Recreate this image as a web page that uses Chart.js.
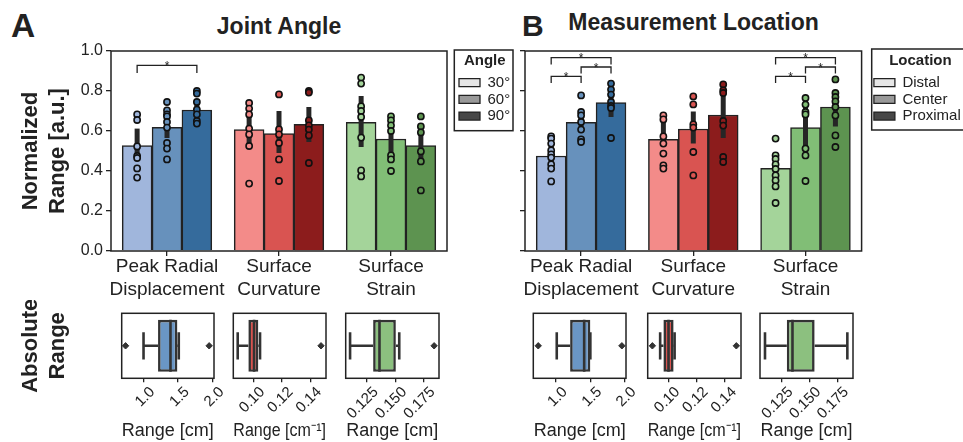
<!DOCTYPE html>
<html><head><meta charset="utf-8">
<script src="https://cdn.jsdelivr.net/npm/chart.js@4.4.1/dist/chart.umd.min.js"></script>
<style>
html,body{margin:0;padding:0;background:#fff;width:963px;height:442px;overflow:hidden;position:relative;font-family:"Liberation Sans",Arial,sans-serif;color:#222}
canvas{position:absolute}
.t{position:absolute;font-weight:bold;white-space:nowrap;line-height:1}
</style></head><body>
<div class="t" style="left:11px;top:9px;font-size:33.5px">A</div>
<div class="t" style="left:111px;width:336px;text-align:center;top:14.5px;font-size:23px">Joint Angle</div>
<div class="t" style="left:522px;top:11px;font-size:30px">B</div>
<div class="t" style="left:525px;width:337px;text-align:center;top:11px;font-size:23px">Measurement Location</div>

<canvas id="barA" width="522" height="300" style="left:0;top:0"></canvas>
<canvas id="barB" width="498" height="300" style="left:480px;top:0"></canvas>
<canvas id="boxA1" width="244" height="142" style="left:0;top:300px"></canvas>
<canvas id="boxA2" width="153" height="142" style="left:203px;top:300px"></canvas>
<canvas id="boxA3" width="153" height="142" style="left:316px;top:300px"></canvas>
<canvas id="boxB1" width="153" height="142" style="left:503px;top:300px"></canvas>
<canvas id="boxB2" width="153" height="142" style="left:618px;top:300px"></canvas>
<canvas id="boxB3" width="153" height="142" style="left:730px;top:300px"></canvas>

<script>
// ---------- DATA ----------
const categories = [['Peak Radial', 'Displacement'], ['Surface', 'Curvature'], ['Surface', 'Strain']];
const angleLevels = ['30°', '60°', '90°'];
const locationLevels = ['Distal', 'Center', 'Proximal'];
const yTickLabels = ['0.0', '0.2', '0.4', '0.6', '0.8', '1.0'];

// Panel A: Joint Angle (order: displacement, curvature, strain)
const angle30Mean = [0.527, 0.607, 0.643];
const angle60Mean = [0.618, 0.587, 0.560];
const angle90Mean = [0.705, 0.633, 0.527];
const angle30CI = [[0.46, 0.612], [0.52, 0.69], [0.52, 0.775]];
const angle60CI = [[0.565, 0.67], [0.49, 0.70], [0.47, 0.655]];
const angle90CI = [[0.67, 0.745], [0.545, 0.72], [0.45, 0.605]];
const angle30Pts = [
  [0.683, 0.655, 0.523, 0.475, 0.465, 0.413, 0.367],
  [0.74, 0.712, 0.683, 0.612, 0.583, 0.525, 0.337],
  [0.867, 0.837, 0.723, 0.70, 0.67, 0.567, 0.403, 0.373]
];
const angle60Pts = [
  [0.745, 0.703, 0.683, 0.673, 0.645, 0.617, 0.54, 0.512, 0.458],
  [0.783, 0.608, 0.583, 0.54, 0.458, 0.35],
  [0.673, 0.653, 0.628, 0.60, 0.478, 0.458, 0.40]
];
const angle90Pts = [
  [0.80, 0.787, 0.745, 0.707, 0.683, 0.65, 0.637],
  [0.80, 0.792, 0.653, 0.628, 0.607, 0.578, 0.44],
  [0.673, 0.623, 0.593, 0.498, 0.448, 0.303]
];
// [category, fromLevel, toLevel, legValue, topValue]
const angleBrackets = [[0, 0, 2, 0.89, 0.928]];

// Panel B: Measurement Location
const distalMean = [0.475, 0.558, 0.413];
const centerMean = [0.643, 0.610, 0.617];
const proximalMean = [0.742, 0.680, 0.720];
const distalCI = [[0.43, 0.525], [0.525, 0.68], [0.37, 0.47]];
const centerCI = [[0.595, 0.69], [0.537, 0.698], [0.50, 0.753]];
const proximalCI = [[0.67, 0.80], [0.565, 0.79], [0.623, 0.78]];
const distalPts = [
  [0.573, 0.562, 0.537, 0.503, 0.483, 0.467, 0.433, 0.412, 0.348],
  [0.678, 0.658, 0.573, 0.537, 0.487, 0.428, 0.412],
  [0.562, 0.478, 0.46, 0.433, 0.41, 0.378, 0.353, 0.323, 0.24]
];
const centerPts = [
  [0.778, 0.695, 0.678, 0.645, 0.607, 0.558, 0.545],
  [0.773, 0.733, 0.633, 0.617, 0.495, 0.378],
  [0.765, 0.732, 0.695, 0.683, 0.512, 0.478, 0.35]
];
const proximalPts = [
  [0.837, 0.807, 0.782, 0.745, 0.725, 0.715, 0.565],
  [0.833, 0.803, 0.79, 0.65, 0.627, 0.47, 0.445],
  [0.858, 0.79, 0.77, 0.748, 0.72, 0.678, 0.578, 0.52]
];
const locationBrackets = [
  [0, 0, 1, 0.84, 0.873], [0, 1, 2, 0.887, 0.92], [0, 0, 2, 0.932, 0.967],
  [2, 0, 1, 0.84, 0.873], [2, 1, 2, 0.887, 0.92], [2, 0, 2, 0.932, 0.967]
];

// Absolute range box plots: [lowWhisker, Q1, median, Q3, highWhisker]
const dispAngleBox = [1.00, 1.21, 1.39, 1.49, 1.51];
const dispAngleOut = [0.74, 1.95];
const curvAngleBox = [0.0890, 0.0965, 0.1005, 0.1035, 0.1047];
const curvAngleOut = [0.1476];
const strainAngleBox = [0.1101, 0.1304, 0.1360, 0.1504, 0.1534];
const strainAngleOut = [0.1841];
const dispLocBox = [1.01, 1.205, 1.41, 1.50, 1.50];
const dispLocOut = [0.74, 1.96];
const curvLocBox = [0.0941, 0.0964, 0.1000, 0.1036, 0.1043];
const curvLocOut = [0.0886, 0.1479];
const strainLocBox = [0.1098, 0.1295, 0.1346, 0.1546, 0.1841];
const strainLocOut = [];
const dispTicks = [1.0, 1.5, 2.0];
const dispTickLabels = ['1.0', '1.5', '2.0'];
const curvTicks = [0.10, 0.12, 0.14];
const curvTickLabels = ['0.10', '0.12', '0.14'];
const strainTicks = [0.125, 0.150, 0.175];
const strainTickLabels = ['0.125', '0.150', '0.175'];

// ---------- STYLE ----------
const INK = '#222';
const blues = ['#a0b6dc', '#6791bc', '#356b9c'];
const reds = ['#f38b89', '#d95451', '#8c1c1c'];
const greens = ['#a4d49a', '#81be76', '#5d9350'];
const palettes = [blues, reds, greens];
const greys = ['#e6e6e6', '#999999', '#474747'];
const boxColors = ['#6a96c5', '#d9534f', '#8cc07f'];

Chart.defaults.font.family = '"Liberation Sans", Arial, Helvetica, sans-serif';
Chart.defaults.color = INK;
Chart.defaults.animation = false;

const slot = 0.8 / 3;
const levelX = (cat, lvl) => cat + (lvl - 1) * slot;

const framePlugin = {
  id: 'frame',
  afterDatasetsDraw(chart) {
    const a = chart.chartArea, c = chart.ctx;
    c.save(); c.strokeStyle = INK; c.lineWidth = 1.5;
    c.strokeRect(a.left, a.top, a.right - a.left, a.bottom - a.top);
    c.restore();
  }
};

const starsPlugin = {
  id: 'stars',
  afterDatasetsDraw(chart, args, o) {
    if (!o.brackets) return;
    const xs = chart.scales.xl, ys = chart.scales.y, c = chart.ctx;
    c.save(); c.fillStyle = INK; c.font = '12px "Liberation Sans", Arial';
    c.textAlign = 'center'; c.textBaseline = 'alphabetic';
    o.brackets.forEach(([cat, a, b, leg, top]) => {
      const xc = (levelX(cat, a) + levelX(cat, b)) / 2;
      c.fillText('*', xs.getPixelForValue(xc), ys.getPixelForValue(top) + 4.5);
    });
    c.restore();
  }
};

const legendBoxPlugin = {
  id: 'legendBox',
  beforeLayout(chart, args, o) {
    const lg = chart.legend;
    if (lg && !lg._fixedFit && o.width) {
      const fit = lg.fit;
      lg.fit = function () { fit.call(this); this.width = o.width; };
      lg._fixedFit = true;
    }
  },
  afterLayout(chart, args, o) {
    const lg = chart.legend;
    if (lg && o.width) { lg.left += o.shift; lg.right += o.shift; }
  },
  afterDraw(chart, args, o) {
    const lg = chart.legend;
    if (!lg || !o.width) return;
    const c = chart.ctx;
    c.save(); c.strokeStyle = INK; c.lineWidth = 1.5;
    c.strokeRect(lg.left + o.fx, lg.top + o.fy, o.fw, o.fh);
    c.restore();
  }
};

function makeBarChart(id, cfg) {
  const ds = [];
  cfg.means.forEach((m, lvl) => ds.push({
    type: 'bar', label: cfg.levels[lvl], grouped: false,
    data: m.map((v, cat) => ({x: levelX(cat, lvl), y: v})),
    backgroundColor: palettes.map(p => p[lvl]), borderColor: INK, borderWidth: 1.5,
    categoryPercentage: 1, barPercentage: 1, xAxisID: 'xl', yAxisID: 'y', order: 4
  }));
  cfg.cis.forEach((byCat, lvl) => byCat.forEach(([lo, hi], cat) => ds.push({
    type: 'scatter', label: 'ci', showLine: true,
    data: [{x: levelX(cat, lvl), y: lo}, {x: levelX(cat, lvl), y: hi}],
    borderColor: '#262626', borderWidth: 5, borderCapStyle: 'butt', pointRadius: 0,
    xAxisID: 'xl', yAxisID: 'y', order: 3
  })));
  cfg.points.forEach((byCat, lvl) => byCat.forEach((vals, cat) => ds.push({
    type: 'scatter', label: 'pts', data: vals.map(v => ({x: levelX(cat, lvl), y: v})),
    pointRadius: 3.1, pointBorderWidth: 1.6, pointBorderColor: '#111',
    pointBackgroundColor: palettes[cat][lvl], xAxisID: 'xl', yAxisID: 'y', order: 2
  })));
  cfg.brackets.forEach(([cat, a, b, leg, top]) => {
    const x1 = levelX(cat, a), x2 = levelX(cat, b);
    ds.push({
      type: 'scatter', label: 'sig', showLine: true,
      data: [{x: x1, y: leg}, {x: x1, y: top}, {x: x2, y: top}, {x: x2, y: leg}],
      borderColor: INK, borderWidth: 1.3, pointRadius: 0, xAxisID: 'xl', yAxisID: 'y', order: 1
    });
  });

  return new Chart(document.getElementById(id), {
    type: 'bar',
    data: {labels: categories, datasets: ds},
    plugins: [framePlugin, starsPlugin, legendBoxPlugin],
    options: {
      responsive: false, devicePixelRatio: 1, animation: false, events: [],
      layout: {padding: cfg.padding},
      plugins: {
        tooltip: {enabled: false},
        stars: {brackets: cfg.brackets},
        legendBox: cfg.legendBox,
        legend: {
          display: true, position: 'right', align: 'start',
          title: {display: true, text: cfg.legendTitle, color: INK,
                  font: {size: 15, weight: 'bold', lineHeight: 1.2}, padding: {top: 2, bottom: 2.5}},
          labels: {
            boxWidth: 21, boxHeight: 8, padding: 1.7, color: INK, font: {size: 15},
            generateLabels: () => cfg.levels.map((t, i) => ({
              text: t, fillStyle: greys[i], strokeStyle: INK, lineWidth: 1.3,
              hidden: false, datasetIndex: i
            }))
          }
        }
      },
      scales: {
        x: {
          type: 'category', offset: true,
          grid: {display: true, drawOnChartArea: false, drawTicks: true, tickLength: 5, offset: false, color: INK, lineWidth: 1.3},
          border: {display: false},
          ticks: {font: {size: 19, lineHeight: 1.17}, padding: 0, color: INK, maxRotation: 0, autoSkip: false},
          afterFit: s => { s.height = 49; }
        },
        xl: {type: 'linear', min: -0.5, max: 2.5, offset: false, bounds: 'data', display: false,
             ticks: {stepSize: 1}, grid: {offset: false}},
        y: {
          type: 'linear', min: 0, max: 1,
          ticks: {stepSize: 0.2, display: cfg.showYLabels, font: {size: 16}, padding: 3, color: INK,
                  callback: (v, i) => yTickLabels[i]},
          grid: {drawOnChartArea: false, tickLength: 5, color: INK, lineWidth: 1.3},
          border: {display: false},
          title: cfg.yTitle ? {display: true, text: cfg.yTitle, color: INK,
                  font: {size: 22, weight: 'bold', lineHeight: 1.2}, padding: 0} : {display: false},
          afterFit: s => { s.width = cfg.yWidth; }
        }
      }
    }
  });
}

makeBarChart('barA', {
  levels: angleLevels, legendTitle: 'Angle',
  means: [angle30Mean, angle60Mean, angle90Mean],
  cis: [angle30CI, angle60CI, angle90CI],
  points: [angle30Pts, angle60Pts, angle90Pts],
  brackets: angleBrackets,
  padding: {left: 18, top: 51, right: 20, bottom: 0},
  yWidth: 93, showYLabels: true, yTitle: ['Normalized', 'Range [a.u.]'],
  legendBox: {width: 55, shift: 10.3, fx: -3, fy: -1, fw: 58.7, fh: 80.7}
});

makeBarChart('barB', {
  levels: locationLevels, legendTitle: 'Location',
  means: [distalMean, centerMean, proximalMean],
  cis: [distalCI, centerCI, proximalCI],
  points: [distalPts, centerPts, proximalPts],
  brackets: locationBrackets,
  padding: {left: 0, top: 51, right: 20, bottom: 0},
  yWidth: 45, showYLabels: false, yTitle: null,
  legendBox: {width: 96.4, shift: 10.6, fx: -0.5, fy: -2, fw: 110, fh: 81}
});

function makeBoxChart(id, cfg) {
  const [wlo, q1, med, q3, whi] = cfg.stats;
  const seg = pts => ({
    type: 'scatter', showLine: true, data: pts.map(([x, y]) => ({x, y})),
    borderColor: '#333', borderWidth: 2.6, pointRadius: 0, xAxisID: 'x', yAxisID: 'yl', order: 1
  });
  const ds = [
    {type: 'bar', indexAxis: 'y', data: [[q1, q3]], backgroundColor: cfg.color,
     borderColor: '#333', borderWidth: 2.6, borderSkipped: false,
     categoryPercentage: 0.8, barPercentage: 1, xAxisID: 'x', yAxisID: 'y', order: 3},
    seg([[wlo, 0], [q1, 0]]), seg([[q3, 0], [whi, 0]]),
    seg([[wlo, -0.21], [wlo, 0.21]]), seg([[whi, -0.21], [whi, 0.21]]),
    seg([[med, -0.4], [med, 0.4]]),
    {type: 'scatter', data: cfg.outliers.map(v => ({x: v, y: 0})), pointStyle: 'rectRot',
     pointRadius: 3.2, pointBackgroundColor: '#333', pointBorderColor: '#333', pointBorderWidth: 1,
     xAxisID: 'x', yAxisID: 'yl', order: 0}
  ];
  return new Chart(document.getElementById(id), {
    type: 'bar',
    data: {labels: [''], datasets: ds},
    plugins: [framePlugin],
    options: {
      responsive: false, devicePixelRatio: 1, animation: false, events: [],
      layout: {padding: {left: cfg.padLeft, right: 30, top: 13.3, bottom: 0}},
      plugins: {legend: {display: false}, tooltip: {enabled: false}},
      scales: {
        x: {
          type: 'linear', min: cfg.range[0], max: cfg.range[1], bounds: 'data', offset: false,
          afterBuildTicks: s => { s.ticks = cfg.ticks.map(v => ({value: v})); },
          ticks: {autoSkip: false, minRotation: 45, maxRotation: 45, font: {size: 15}, padding: 1,
                  labelOffset: 9, color: INK, callback: (v, i) => cfg.tickLabels[i]},
          grid: {drawOnChartArea: false, tickLength: 4, color: INK, lineWidth: 1.3, offset: false},
          border: {display: false},
          title: {display: true, text: cfg.title, color: INK, font: {size: 18, lineHeight: 1.2}, padding: 0},
          afterFit: s => { s.height = 63.7; }
        },
        y: {
          type: 'category', offset: true, display: !!cfg.yTitle,
          ticks: {display: false}, grid: {display: false}, border: {display: false},
          title: cfg.yTitle ? {display: true, text: cfg.yTitle, color: INK,
                  font: {size: 22, weight: 'bold', lineHeight: 1.2}, padding: 0} : {display: false},
          afterFit: s => { if (cfg.yTitle) s.width = 103.7; }
        },
        yl: {type: 'linear', axis: 'y', position: 'left', min: -0.5, max: 0.5, offset: false, bounds: 'data', display: false}
      }
    }
  });
}

makeBoxChart('boxA1', {stats: dispAngleBox, outliers: dispAngleOut, color: boxColors[0], range: [0.684, 2.02],
  ticks: dispTicks, tickLabels: dispTickLabels, title: 'Range [cm]', yTitle: ['Absolute', 'Range'], padLeft: 18});
makeBoxChart('boxA2', {stats: curvAngleBox, outliers: curvAngleOut, color: boxColors[1], range: [0.0859, 0.1511],
  ticks: curvTicks, tickLabels: curvTickLabels, title: 'Range [cm⁻¹]', padLeft: 30.3});
makeBoxChart('boxA3', {stats: strainAngleBox, outliers: strainAngleOut, color: boxColors[2], range: [0.10625, 0.1884],
  ticks: strainTicks, tickLabels: strainTickLabels, title: 'Range [cm]', padLeft: 29.7});
makeBoxChart('boxB1', {stats: dispLocBox, outliers: dispLocOut, color: boxColors[0], range: [0.668, 2.02],
  ticks: dispTicks, tickLabels: dispTickLabels, title: 'Range [cm]', padLeft: 30.3});
makeBoxChart('boxB2', {stats: curvLocBox, outliers: curvLocOut, color: boxColors[1], range: [0.0853, 0.1512],
  ticks: curvTicks, tickLabels: curvTickLabels, title: 'Range [cm⁻¹]', padLeft: 29.7});
makeBoxChart('boxB3', {stats: strainLocBox, outliers: strainLocOut, color: boxColors[2], range: [0.1053, 0.1892],
  ticks: strainTicks, tickLabels: strainTickLabels, title: 'Range [cm]', padLeft: 30});
</script>
</body></html>
